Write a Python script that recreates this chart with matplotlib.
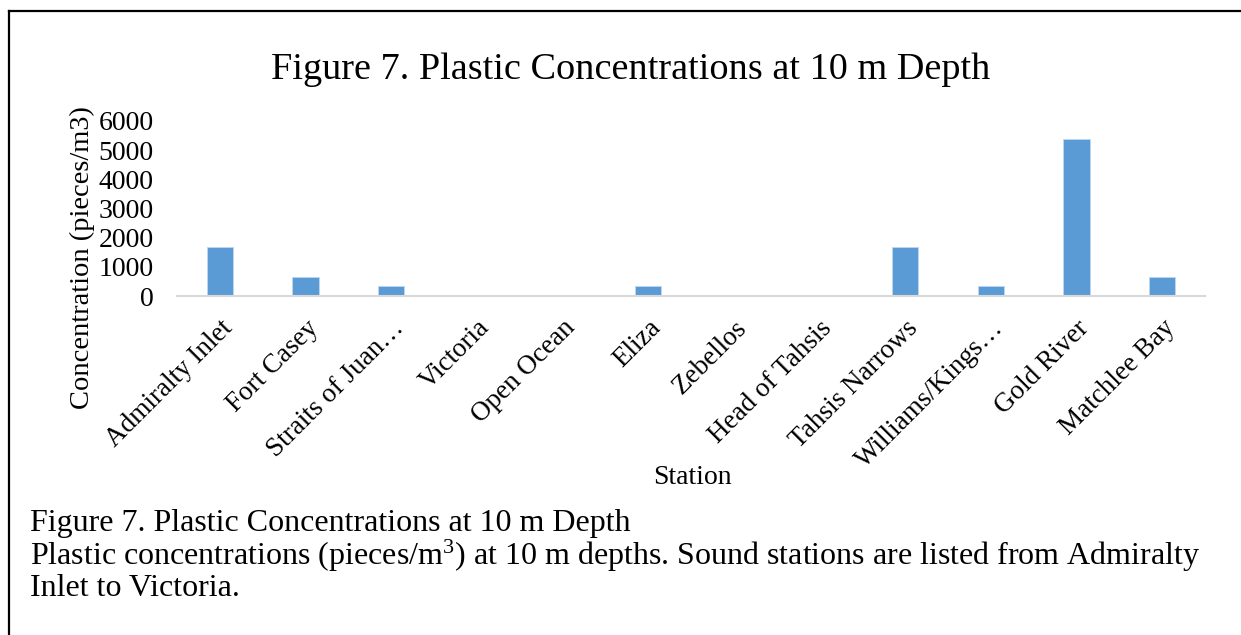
import numpy as np
import matplotlib
matplotlib.use('Agg')
import matplotlib.pyplot as plt
from matplotlib.lines import Line2D

plt.rcParams['font.family'] = ['Liberation Serif', 'DejaVu Serif']
plt.rcParams['mathtext.fontset'] = 'custom'
plt.rcParams['mathtext.rm'] = 'Liberation Serif'
plt.rcParams['mathtext.it'] = 'Liberation Serif:italic'

stations = ['Admiralty Inlet', 'Fort Casey', 'Straits of Juan\u2026', 'Victoria',
            'Open Ocean', 'Eliza', 'Zebellos', 'Head of Tahsis',
            'Tahsis Narrows', 'Williams/Kings\u2026', 'Gold River', 'Matchlee Bay']
concentration = [1667, 667, 333, 0, 0, 333, 0, 0, 1667, 333, 5367, 667]
yticks = [0, 1000, 2000, 3000, 4000, 5000, 6000]

title = 'Figure 7. Plastic Concentrations at 10 m Depth'
caption = ['Figure 7. Plastic Concentrations at 10 m Depth',
           'Plastic concentrations (pieces/m$^{3}$) at 10 m depths. Sound stations are listed from Admiralty',
           'Inlet to Victoria.']

W, H = 1241, 635
fig = plt.figure(figsize=(W / 100, H / 100), dpi=100)

ax = fig.add_axes([177 / W, 1 - 296 / H, (1205 - 177) / W, (296 - 121) / H])
x = np.arange(len(stations))
ax.bar(x, concentration, width=0.31, color='#5B9BD5', edgecolor='#BDD7EE', linewidth=0.6, zorder=2)
ax.set_xlim(-0.5, len(stations) - 0.5)
ax.set_ylim(0, 6000)
ax.set_yticks(yticks)
ax.set_yticklabels([str(v) for v in yticks], fontsize=20)
ax.set_xticks(x)
ax.set_xticklabels(stations, rotation=45, ha='right', va='top', rotation_mode='anchor', fontsize=19.5)
ax.tick_params(axis='both', length=0)
ax.tick_params(axis='y', pad=17)
ax.tick_params(axis='x', pad=14)
for s in ['top', 'right', 'left']:
    ax.spines[s].set_visible(False)
ax.spines['bottom'].set_color('#D9D9D9')
ax.spines['bottom'].set_linewidth(1.5)

fig.text(631 / W, 1 - 70 / H, title, ha='center', va='center', fontsize=27.5)
fig.text(82 / W, 1 - 258 / H, 'Concentration (pieces/m3)', rotation=90,
         ha='center', va='center', fontsize=20.5)
fig.text(692 / W, 1 - 478 / H, 'Station', ha='center', va='center', fontsize=20)

for i, line in enumerate(caption):
    fig.text(30 / W, 1 - (523 + 33 * i) / H, line, ha='left', va='center', fontsize=23)

# box edges around the figure area
fig.add_artist(Line2D([9 / W, 9 / W], [0, 1 - 11 / H], color='black', linewidth=1.6,
                      transform=fig.transFigure))
fig.add_artist(Line2D([9 / W, 1], [1 - 11 / H, 1 - 11 / H], color='black', linewidth=1.6,
                      transform=fig.transFigure))

fig.savefig('out.png', dpi=100)
